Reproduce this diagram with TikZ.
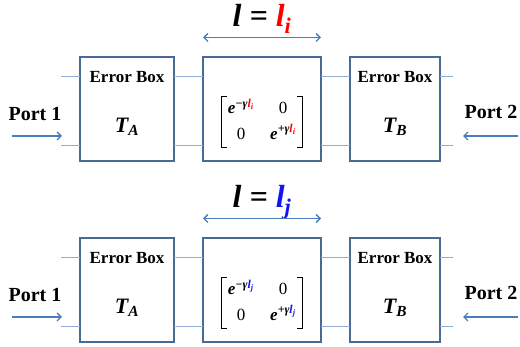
\documentclass[tikz,border=0pt]{standalone}
\usepackage{fontspec}
\setmainfont{Liberation Serif}
\usetikzlibrary{arrows.meta, positioning}
\definecolor{frame}{HTML}{4A6A96}
\definecolor{wireblue}{HTML}{93AED6}
\definecolor{flow}{HTML}{4A7EBB}
\definecolor{lenred}{HTML}{FF0000}
\definecolor{lenblue}{HTML}{1414F0}
\newcommand{\lenI}{\textcolor{lenred}{l\textsubscript{i}}}
\newcommand{\lenJ}{\textcolor{lenblue}{l\textsubscript{j}}}
% entries of the propagation matrix of the line section
\newcommand{\propmat}[1]{\begin{tabular}{@{}c@{\hspace{16pt}}c@{}}
  \textbf{\textit{e}}\textsuperscript{\textbf{\textit{−γ#1}}} & 0\\[5pt]
  0 & \textbf{\textit{e}}\textsuperscript{\textbf{\textit{+γ#1}}}
\end{tabular}}
\tikzset{
  block/.style={
    draw=frame,
    line width=1.3pt,
    fill=white,
    outer sep=0pt,
    inner sep=0pt,
    minimum height=104pt
  },
  errbox/.style={block, minimum width=94pt},
  linebox/.style={block, minimum width=118pt},
  boxtitle/.style={font=\fontsize{17}{20}\selectfont\bfseries},
  tname/.style={font=\fontsize{22}{24}\selectfont\bfseries\itshape},
  port/.style={font=\fontsize{20}{24}\selectfont\bfseries},
  lenlabel/.style={anchor=base, font=\fontsize{32}{36}\selectfont\bfseries\itshape},
  matlabel/.style={font=\fontsize{17}{20}\selectfont, inner xsep=6pt, inner ysep=2pt, minimum height=44pt},
  bracket/.style={draw=black, line width=1.1pt},
  wire/.style={draw=wireblue, line width=1pt},
  arrow/.style={-{Straight Barb[length=4pt, width=8pt]}, line width=1.3pt, draw=flow},
  dimarrow/.style={{Straight Barb[length=4pt, width=8pt]}-{Straight Barb[length=4pt, width=8pt]}, line width=1.3pt, draw=flow}
}

\begin{document}
\begin{tikzpicture}[x=1pt, y=1pt]
\useasboundingbox (0,0) rectangle (520,-347);

% upper measurement, line length l_i
\node[errbox] (boxA1) at (127,-109) {};
\node[linebox, right=29pt of boxA1] (line1) {};
\node[errbox, minimum width=90pt, right=29pt of line1] (boxB1) {};

% lower measurement, line length l_j
\node[errbox, below=77pt of boxA1] (boxA2) {};
\node[linebox, below=77pt of line1] (line2) {};
\node[errbox, minimum width=90pt, below=77pt of boxB1] (boxB2) {};

\node[lenlabel] (len1) at ([yshift=30pt]line1.north) {l = \lenI};
\node[lenlabel] (len2) at ([yshift=30pt]line2.north) {l = \lenJ};
\node[matlabel] (mat1) at ([yshift=-13pt]line1.center) {\propmat{\lenI}};
\node[matlabel] (mat2) at ([yshift=-13pt]line2.center) {\propmat{\lenJ}};

\foreach \r in {1,2} {
  % two-wire connections between the blocks
  \foreach \dy/\anc in {-20pt/north, 15pt/south} {
    \draw[wire] ([yshift=\dy]boxA\r.\anc\space west) -- ++(-19pt,0);
    \draw[wire] ([yshift=\dy]boxA\r.\anc\space east) -- ([yshift=\dy]line\r.\anc\space west);
    \draw[wire] ([yshift=\dy]line\r.\anc\space east) -- ([yshift=\dy]boxB\r.\anc\space west);
    \draw[wire] ([yshift=\dy]boxB\r.\anc\space east) -- ++(13pt,0);
  }
  \node[boxtitle] (titA\r) at ([yshift=-20pt]boxA\r.north) {Error Box};
  \node[tname] (tA\r) at ([yshift=-18pt]boxA\r.center) {T\textsubscript{A}};
  \node[boxtitle] (titB\r) at ([yshift=-20pt]boxB\r.north) {Error Box};
  \node[tname] (tB\r) at ([yshift=-18pt]boxB\r.center) {T\textsubscript{B}};

  % matrix brackets
  \draw[bracket] ([xshift=5pt]mat\r.north west) -| (mat\r.south west) -- ++(5pt,0);
  \draw[bracket] ([xshift=-5pt]mat\r.north east) -| (mat\r.south east) -- ++(-5pt,0);

  % ports
  \node[port] (port1\r) at ([xshift=-45pt, yshift=-5pt]boxA\r.west) {Port 1};
  \node[port] (port2\r) at ([xshift=51pt, yshift=-3pt]boxB\r.east) {Port 2};
  \coordinate (in\r) at ([xshift=-18pt, yshift=-79pt]boxA\r.north west);
  \coordinate (out\r) at ([xshift=23pt, yshift=-79pt]boxB\r.north east);
  \draw[arrow] ([xshift=-50pt]in\r) -- (in\r);
  \draw[arrow] ([xshift=55pt]out\r) -- (out\r);

  % length of the line standard
  \draw[dimarrow] ([yshift=19.5pt]line\r.north west) -- ([yshift=19.5pt]line\r.north east);
}

\end{tikzpicture}
\end{document}
